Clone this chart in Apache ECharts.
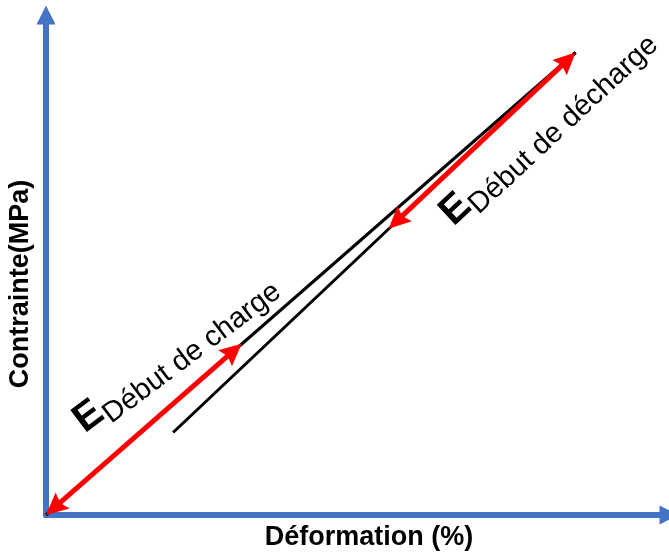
<!DOCTYPE html>
<html>
<head>
<meta charset="utf-8">
<script src="https://cdn.jsdelivr.net/npm/echarts@6/dist/echarts.min.js"></script>
<style>
  html, body { margin: 0; padding: 0; background: #fff; }
  #chart { width: 669px; height: 554px; }
</style>
</head>
<body>
<div id="chart"></div>
<script>
// Stress-strain sketch: loading and unloading lines with modulus arrows
const axisRangeStrain = [0, 0.5];      // %
const axisRangeStress = [0, 400];      // MPa

const loadStrain = [0, 0.425];
const loadStress = [0, 370];
const unloadStrain = [0.425, 0.102];
const unloadStress = [370, 66];

// Tangent-modulus arrows (start of loading / start of unloading)
const chargeArrowStrain = [0, 0.157];
const chargeArrowStress = [0, 137];
const dechargeArrowStrain = [0.425, 0.275];
const dechargeArrowStress = [370, 229];

const labelCharge = 'Début de charge';
const labelDecharge = 'Début de décharge';
const xTitle = 'Déformation (%)';
const yTitle = 'Contrainte(MPa)';

const FONT = "'Liberation Sans', Arial, sans-serif";
const BLUE = '#4472C4';
const RED = '#FF0000';

const pairs = (xs, ys) => xs.map((x, i) => [x, ys[i]]);
const deg = d => d * Math.PI / 180;

const chart = echarts.init(document.getElementById('chart'), null, { renderer: 'canvas' });

const axisCommon = {
  type: 'value',
  axisTick: { show: false },
  axisLabel: { show: false },
  splitLine: { show: false },
  axisLine: {
    show: true,
    onZero: false,
    symbol: ['none', 'triangle'],
    symbolSize: [19, 19],
    lineStyle: { color: BLUE, width: 6 }
  }
};

const richStyle = {
  e: { fontFamily: FONT, fontSize: 40, fontWeight: 'bold', color: '#000', lineHeight: 46, verticalAlign: 'top' },
  s: { fontFamily: FONT, fontSize: 29, color: '#000', lineHeight: 29, verticalAlign: 'bottom', padding: [18, 0, 0, 0] }
};

// Double-headed arrow between two data points
const HEAD_LEN = 22, HEAD_W = 21, SHAFT_W = 5;
function renderArrow(params, api) {
  const a = api.coord([api.value(0), api.value(1)]);
  const b = api.coord([api.value(2), api.value(3)]);
  const dx = b[0] - a[0], dy = b[1] - a[1];
  const len = Math.sqrt(dx * dx + dy * dy);
  const ux = dx / len, uy = dy / len;
  const nx = -uy, ny = ux;
  const head = (tip, dir) => {
    const bx = tip[0] - dir * ux * HEAD_LEN, by = tip[1] - dir * uy * HEAD_LEN;
    const mx = tip[0] - dir * ux * HEAD_LEN * 0.85, my = tip[1] - dir * uy * HEAD_LEN * 0.85;
    return [tip, [bx + nx * HEAD_W / 2, by + ny * HEAD_W / 2], [mx, my], [bx - nx * HEAD_W / 2, by - ny * HEAD_W / 2]];
  };
  const inset = HEAD_LEN * 0.8;
  return {
    type: 'group',
    children: [
      {
        type: 'line',
        shape: { x1: a[0] + ux * inset, y1: a[1] + uy * inset, x2: b[0] - ux * inset, y2: b[1] - uy * inset },
        style: { stroke: RED, lineWidth: SHAFT_W }
      },
      { type: 'polygon', shape: { points: head(a, -1) }, style: { fill: RED } },
      { type: 'polygon', shape: { points: head(b, 1) }, style: { fill: RED } }
    ]
  };
}

chart.setOption({
  animation: false,
  backgroundColor: '#fff',
  grid: { left: 46, right: 0, top: 15, bottom: 39, containLabel: false },
  xAxis: Object.assign({}, axisCommon, { min: axisRangeStrain[0], max: axisRangeStrain[1] }),
  yAxis: Object.assign({}, axisCommon, { min: axisRangeStress[0], max: axisRangeStress[1] }),
  series: [
    {
      type: 'line', name: 'charge', data: pairs(loadStrain, loadStress),
      symbol: 'none', lineStyle: { color: '#000', width: 3 }, z: 2
    },
    {
      type: 'line', name: 'décharge', data: pairs(unloadStrain, unloadStress),
      symbol: 'none', lineStyle: { color: '#000', width: 3 }, z: 2
    },
    {
      type: 'custom',
      name: 'module',
      renderItem: renderArrow,
      encode: { x: [0, 2], y: [1, 3] },
      z: 3,
      data: [
        [chargeArrowStrain[0], chargeArrowStress[0], chargeArrowStrain[1], chargeArrowStress[1]],
        [dechargeArrowStrain[0], dechargeArrowStress[0], dechargeArrowStrain[1], dechargeArrowStress[1]]
      ]
    }
  ],
  graphic: [
    {
      type: 'text', x: 80, y: 427, rotation: deg(37),
      style: { text: '{e|E}{s|' + labelCharge + '}', rich: richStyle, align: 'left', verticalAlign: 'middle' }
    },
    {
      type: 'text', x: 448, y: 221, rotation: deg(43),
      style: { text: '{e|E}{s|' + labelDecharge + '}', rich: richStyle, align: 'left', verticalAlign: 'middle' }
    },
    {
      type: 'text', x: 369, y: 538,
      style: { text: xTitle, fontFamily: FONT, fontSize: 27, fontWeight: 'bold', fill: '#000', align: 'center', verticalAlign: 'middle' }
    },
    {
      type: 'text', x: 21, y: 284, rotation: deg(90),
      style: { text: yTitle, fontFamily: FONT, fontSize: 27, fontWeight: 'bold', fill: '#000', align: 'center', verticalAlign: 'middle' }
    }
  ]
});
</script>
</body>
</html>
